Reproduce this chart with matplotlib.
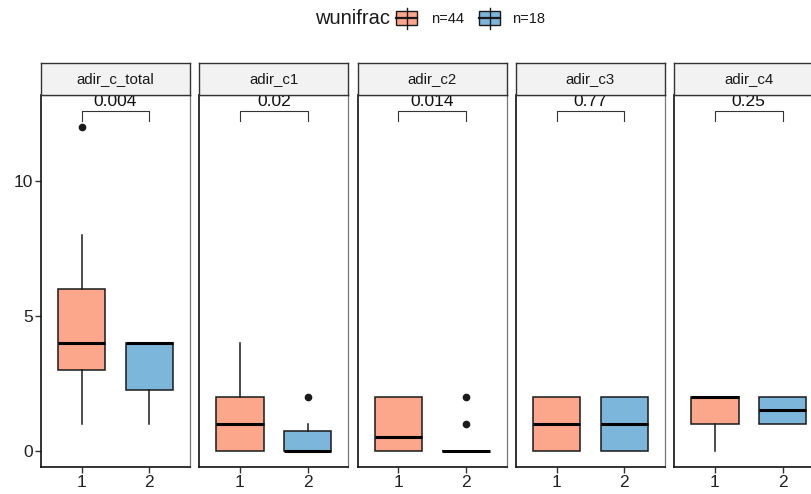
import matplotlib
matplotlib.use("Agg")
import matplotlib.pyplot as plt
from matplotlib.patches import Rectangle

plt.rcParams["font.family"] = ["Liberation Sans", "DejaVu Sans"]

# ============================================
# Data
# ============================================
panels = ["adir_c_total", "adir_c1", "adir_c2", "adir_c3", "adir_c4"]
groups = ["1", "2"]
group_labels = ["n=44", "n=18"]
colors = ["#FCA68B", "#7DB6DB"]
p_values = ["0.004", "0.02", "0.014", "0.77", "0.25"]

# per panel, per group: whisker low, q1, median, q3, whisker high
box_low = [[1, 1], [0, 0], [0, 0], [0, 0], [0, 1]]
box_q1 = [[3, 2.25], [0, 0], [0, 0], [0, 0], [1, 1]]
box_med = [[4, 4], [1, 0], [0.5, 0], [1, 1], [2, 1.5]]
box_q3 = [[6, 4], [2, 0.75], [2, 0], [2, 2], [2, 2]]
box_high = [[8, 4], [4, 1], [2, 0], [2, 2], [2, 2]]
outliers = [[[12], []], [[], [2]], [[], [1, 2]], [[], []], [[], []]]

y_ticks = [0, 5, 10]
bracket_y = 12.6
bracket_drop = 0.36

# ============================================
# Layout (pixel geometry of the 811x494 reference)
# ============================================
W, H = 811, 494
fig = plt.figure(figsize=(W / 100, H / 100), dpi=100)

panel_left0 = 41
panel_w = 149
panel_step = 158.3
panel_top = 95
panel_bottom = 467
strip_top = 63


def fx(px):
    return px / W


def fy(py):
    return 1 - py / H


for i, name in enumerate(panels):
    left = panel_left0 + i * panel_step
    ax = fig.add_axes([fx(left), fy(panel_bottom), fx(panel_w), (panel_bottom - panel_top) / H])

    stats = []
    for g in range(2):
        stats.append({
            "whislo": box_low[i][g], "q1": box_q1[i][g], "med": box_med[i][g],
            "q3": box_q3[i][g], "whishi": box_high[i][g], "fliers": outliers[i][g],
            "label": groups[g],
        })

    bp = ax.bxp(stats, positions=[1, 2], widths=0.7, patch_artist=True, showcaps=False,
                boxprops=dict(edgecolor="#1a1a1a", linewidth=1.1),
                medianprops=dict(color="black", linewidth=2.2, solid_capstyle="butt"),
                whiskerprops=dict(color="#1a1a1a", linewidth=1.1),
                flierprops=dict(marker="o", markerfacecolor="#1a1a1a", markeredgecolor="#1a1a1a",
                                markersize=4.5))
    for patch, c in zip(bp["boxes"], colors):
        patch.set_facecolor(c)

    # significance bracket
    ax.plot([1, 1, 2, 2], [bracket_y - bracket_drop, bracket_y, bracket_y, bracket_y - bracket_drop],
            color="#333333", linewidth=0.8)
    ax.text(1.5, bracket_y + 0.08, p_values[i], ha="center", va="bottom", fontsize=12.5, color="#111111")

    ax.set_xlim(0.4, 2.6)
    ax.set_ylim(-0.593, 13.185)
    ax.set_xticks([1, 2])
    ax.set_xticklabels(groups, fontsize=12.5, color="#222222")
    ax.tick_params(axis="x", length=4, width=1, color="#333333", pad=2)
    if i == 0:
        ax.set_yticks(y_ticks)
        ax.set_yticklabels([str(t) for t in y_ticks], fontsize=12.5, color="#222222")
        ax.tick_params(axis="y", length=4, width=1, color="#333333", pad=2)
    else:
        ax.set_yticks([])

    ax.spines["left"].set_color("#111111")
    ax.spines["bottom"].set_color("#111111")
    ax.spines["left"].set_linewidth(1.2)
    ax.spines["bottom"].set_linewidth(1.2)
    ax.spines["right"].set_color("#777777")
    ax.spines["top"].set_color("#777777")
    ax.spines["right"].set_linewidth(0.9)
    ax.spines["top"].set_linewidth(0.9)

    # facet strip
    sax = fig.add_axes([fx(left), fy(panel_top), fx(panel_w), (panel_top - strip_top) / H])
    sax.set_facecolor("#F2F2F2")
    sax.set_xticks([])
    sax.set_yticks([])
    for sp in sax.spines.values():
        sp.set_color("#333333")
        sp.set_linewidth(1.0)
    sax.text(0.5, 0.5, name, ha="center", va="center", fontsize=10.8,
             color="#1a1a1a", transform=sax.transAxes)

# ============================================
# Legend drawn in pixel space
# ============================================
lax = fig.add_axes([0, 0, 1, 1], zorder=-1)
lax.set_xlim(0, W)
lax.set_ylim(H, 0)
lax.axis("off")

lax.text(315, 19, "wunifrac", ha="left", va="center", fontsize=14.5, color="#1a1a1a")
key_x = [396, 479]
text_x = [431, 512]
for g in range(2):
    x0 = key_x[g]
    kw = 21
    lax.plot([x0 + kw / 2, x0 + kw / 2], [8, 29.5], color="#1a1a1a", linewidth=1.0)
    lax.add_patch(Rectangle((x0, 11.5), kw, 13.5, facecolor=colors[g], edgecolor="#1a1a1a", linewidth=1.0))
    lax.plot([x0, x0 + kw], [18.3, 18.3], color="#1a1a1a", linewidth=1.6)
    lax.text(text_x[g], 19, group_labels[g], ha="left", va="center", fontsize=10.5, color="#1a1a1a")

fig.savefig("out.png", dpi=100)
